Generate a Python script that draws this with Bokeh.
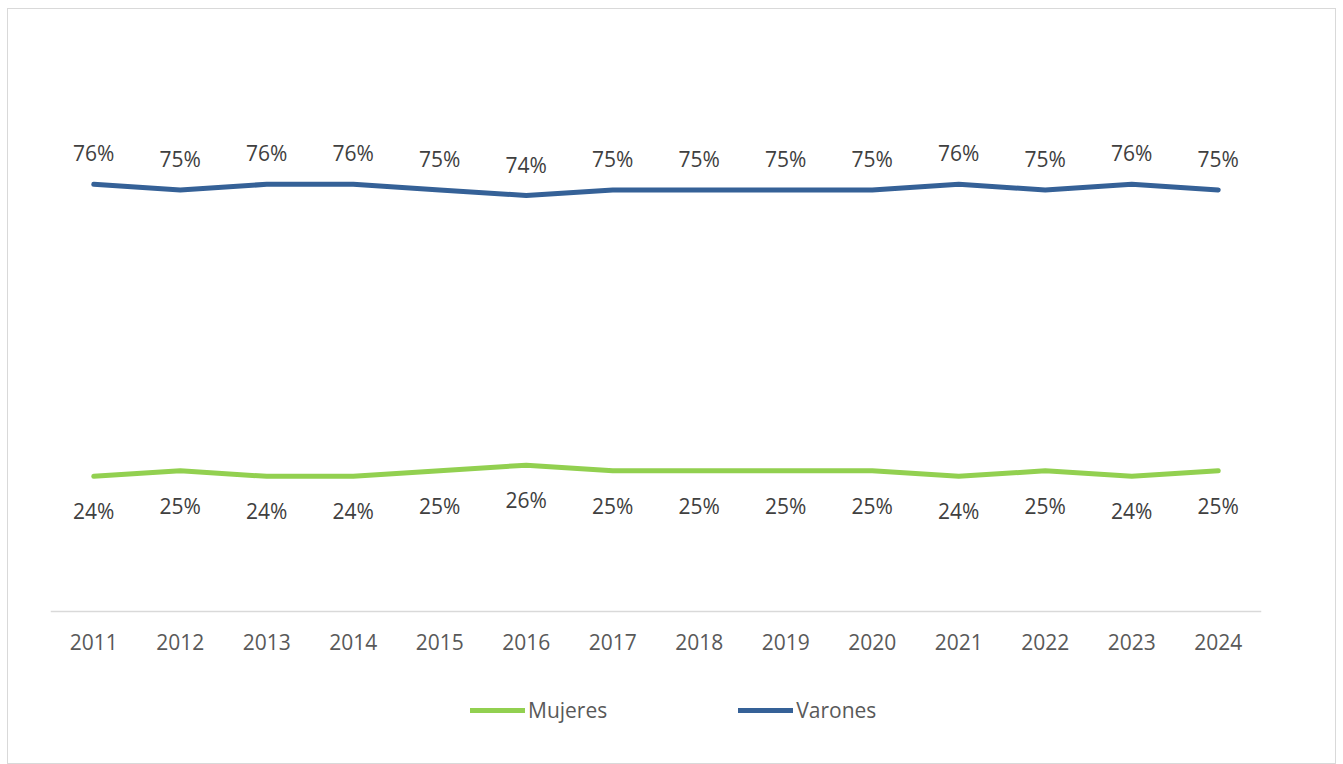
from bokeh.plotting import figure
from bokeh.models import ColumnDataSource, Legend, LegendItem, Range1d, FactorRange
from bokeh.core.properties import value
from bokeh.embed import file_html
from bokeh.resources import INLINE

years = ["2011", "2012", "2013", "2014", "2015", "2016", "2017",
         "2018", "2019", "2020", "2021", "2022", "2023", "2024"]
mujeres = [24, 25, 24, 24, 25, 26, 25, 25, 25, 25, 24, 25, 24, 25]
varones = [76, 75, 76, 76, 75, 74, 75, 75, 75, 75, 76, 75, 76, 75]

FONT = "Open Sans"
GREEN = "#92D050"
BLUE = "#356197"
FS = "21px"

src = ColumnDataSource(dict(
    x=years,
    m=[v / 100 for v in mujeres],
    v=[v / 100 for v in varones],
    ml=[f"{v}%" for v in mujeres],
    vl=[f"{v}%" for v in varones],
))

p = figure(frame_width=1211, frame_height=674, x_range=FactorRange(*years, range_padding=0),
           y_range=Range1d(-0.2, 1.0), output_backend="svg", toolbar_location=None,
           min_border_left=42, min_border_right=74, min_border_top=40, min_border_bottom=40)
p.styles = {"border": "1px solid #d9d9d9", "margin": "8px 0 0 7px"}
p.outline_line_color = None
p.xgrid.grid_line_color = None
p.ygrid.grid_line_color = None
p.yaxis.visible = False

ax = p.xaxis[0]
ax.fixed_location = 0
ax.axis_line_color = "#d9d9d9"
ax.axis_line_width = 1.5
ax.major_tick_line_color = None
ax.minor_tick_line_color = None
ax.major_label_standoff = 17
ax.major_label_text_font = FONT
ax.major_label_text_font_size = FS
ax.major_label_text_color = "#595959"

rm = p.line("x", "m", source=src, line_color=GREEN, line_width=5, line_join="round", line_cap="round")
rv = p.line("x", "v", source=src, line_color=BLUE, line_width=5, line_join="round", line_cap="round")

p.text("x", "v", text="vl", source=src, text_align="center", text_baseline="middle",
       y_offset=-31, text_font=value(FONT), text_font_size=FS, text_color="#404040")
p.text("x", "m", text="ml", source=src, text_align="center", text_baseline="middle",
       y_offset=35, text_font=value(FONT), text_font_size=FS, text_color="#404040")

legend = Legend(items=[LegendItem(label="Mujeres", renderers=[rm]),
                       LegendItem(label="Varones", renderers=[rv])],
                orientation="horizontal", location=(420, -1))
legend.border_line_color = None
legend.background_fill_alpha = 0
legend.glyph_width = 55
legend.glyph_height = 20
legend.label_height = 20
legend.label_standoff = 3
legend.spacing = 131
legend.padding = 2
legend.margin = 0
legend.label_text_font = FONT
legend.label_text_font_size = FS
legend.label_text_color = "#595959"
p.add_layout(legend, "center")

open("out.html", "w").write(file_html(p, INLINE))
